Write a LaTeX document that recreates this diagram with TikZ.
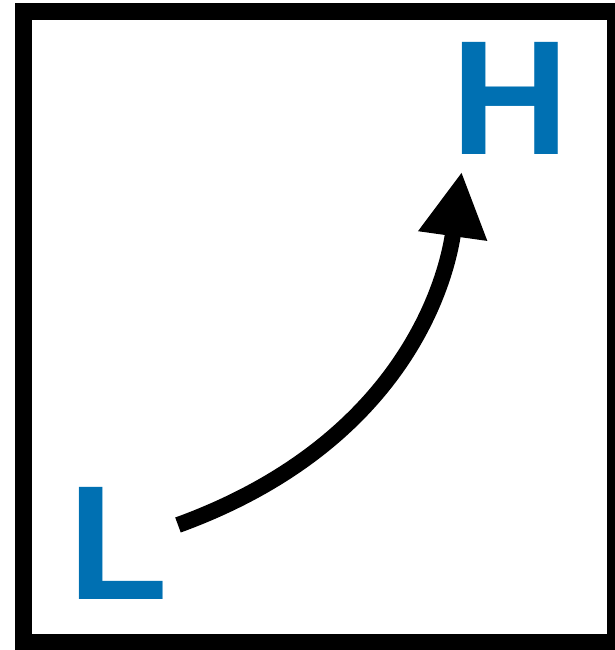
\documentclass[tikz,border=0pt]{standalone}
\usepackage{fontspec}
\setmainfont{Liberation Sans}
\usetikzlibrary{arrows.meta}
\definecolor{letterblue}{RGB}{0,112,178}
\begin{document}
\begin{tikzpicture}[x=1pt,y=1pt,
  letter/.style={inner sep=0pt, outer sep=0pt, text=letterblue,
    font=\fontsize{163}{163}\selectfont\bfseries},
  frame/.style={line width=17pt, draw=black},
  curvedarrow/.style={line width=16pt, -{Triangle[length=65pt,width=65pt]}}]
\useasboundingbox (0,0) rectangle (615,650);
\clip (0,0) rectangle (615,650);
\draw[frame] (23.5,7.5) rectangle (615.5,638.5);
\node[letter, anchor=base] (H) at (509.9,495.7) {H};
\node[letter, anchor=base west] (L) at (68,50.7) {L};
\coordinate (s) at (178,125);
\coordinate (t) at (461.7,478.3);
\draw[curvedarrow] (s) .. controls (403.5,207.1) and (446.4,369.4) .. (t);
\end{tikzpicture}
\end{document}
